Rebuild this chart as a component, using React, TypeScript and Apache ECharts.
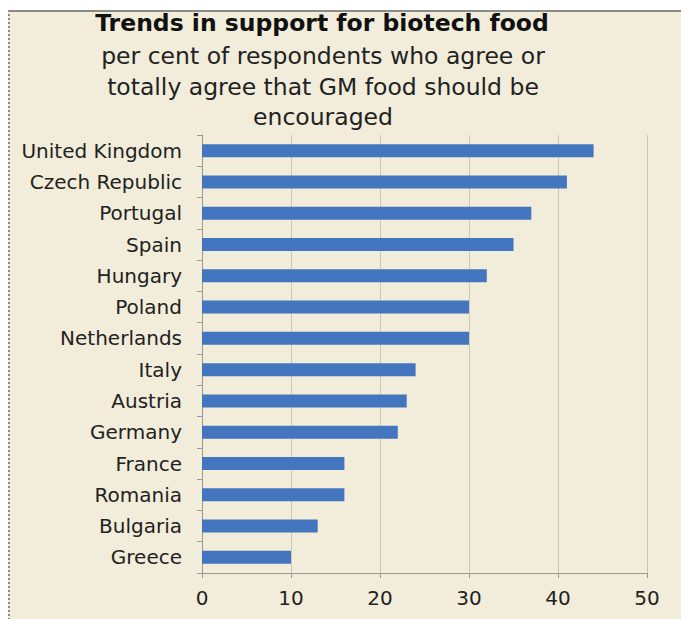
import React, { useEffect, useRef } from "react";
import * as echarts from "echarts";

const categories = [
  "United Kingdom",
  "Czech Republic",
  "Portugal",
  "Spain",
  "Hungary",
  "Poland",
  "Netherlands",
  "Italy",
  "Austria",
  "Germany",
  "France",
  "Romania",
  "Bulgaria",
  "Greece",
];
const values = [44, 41, 37, 35, 32, 30, 30, 24, 23, 22, 16, 16, 13, 10];
const titleText = "Trends in support for biotech food";
const subtitleLines = [
  "per cent of respondents who agree or",
  "totally agree that GM food should be",
  "encouraged",
];

const FONT = "'DejaVu Sans', Verdana, sans-serif";

export default function App() {
  const ref = useRef<HTMLDivElement>(null);
  useEffect(() => {
    if (!ref.current) return;
    const chart = echarts.init(ref.current, undefined, { renderer: "svg" });
    const subY = [56, 87, 117];
    chart.setOption({
      animation: false,
      backgroundColor: "#ffffff",
      graphic: [
        {
          type: "rect",
          z: -10,
          shape: { x: 8, y: 10, width: 673, height: 609 },
          style: { fill: "#f1edda" },
        },
        {
          type: "line",
          z: -9,
          shape: { x1: 8, y1: 11, x2: 681, y2: 11 },
          style: { stroke: "#8a8a86", lineWidth: 2 },
        },
        {
          type: "line",
          z: -9,
          shape: { x1: 9, y1: 10, x2: 9, y2: 619 },
          style: { stroke: "#8a8a86", lineWidth: 2, lineDash: [2, 2] },
        },
        {
          type: "text",
          x: 322,
          y: 23,
          style: {
            text: titleText,
            font: `bold 23.5px ${FONT}`,
            fill: "#111111",
            align: "center",
            verticalAlign: "middle",
          },
        },
        ...subtitleLines.map((t, i) => ({
          type: "text",
          x: 323,
          y: subY[i],
          style: {
            text: t,
            font: `23.5px ${FONT}`,
            fill: "#222222",
            align: "center",
            verticalAlign: "middle",
          },
        })),
      ],
      grid: { left: 202, right: 34, top: 135, bottom: 46, containLabel: false },
      xAxis: {
        type: "value",
        min: 0,
        max: 50,
        interval: 10,
        axisLine: { show: true, lineStyle: { color: "#9a9890", width: 1 } },
        axisTick: { show: true, length: 5, lineStyle: { color: "#9a9890" } },
        splitLine: { show: true, lineStyle: { color: "#cdc9b8", width: 1 } },
        axisLabel: {
          color: "#222222",
          fontSize: 20,
          fontFamily: FONT,
          margin: 15,
        },
      },
      yAxis: {
        type: "category",
        inverse: true,
        data: categories,
        axisLine: { show: true, lineStyle: { color: "#9a9890", width: 1 } },
        axisTick: { show: true, length: 5, lineStyle: { color: "#9a9890" } },
        axisLabel: {
          color: "#222222",
          fontSize: 20,
          fontFamily: FONT,
          margin: 20,
        },
      },
      series: [
        {
          type: "bar",
          data: values,
          barWidth: 13,
          itemStyle: { color: "#4475bf" },
        },
      ],
    });
    return () => chart.dispose();
  }, []);
  return (
    <div
      ref={ref}
      style={{ position: "fixed", left: 0, top: 0, width: 681, height: 619 }}
    />
  );
}
